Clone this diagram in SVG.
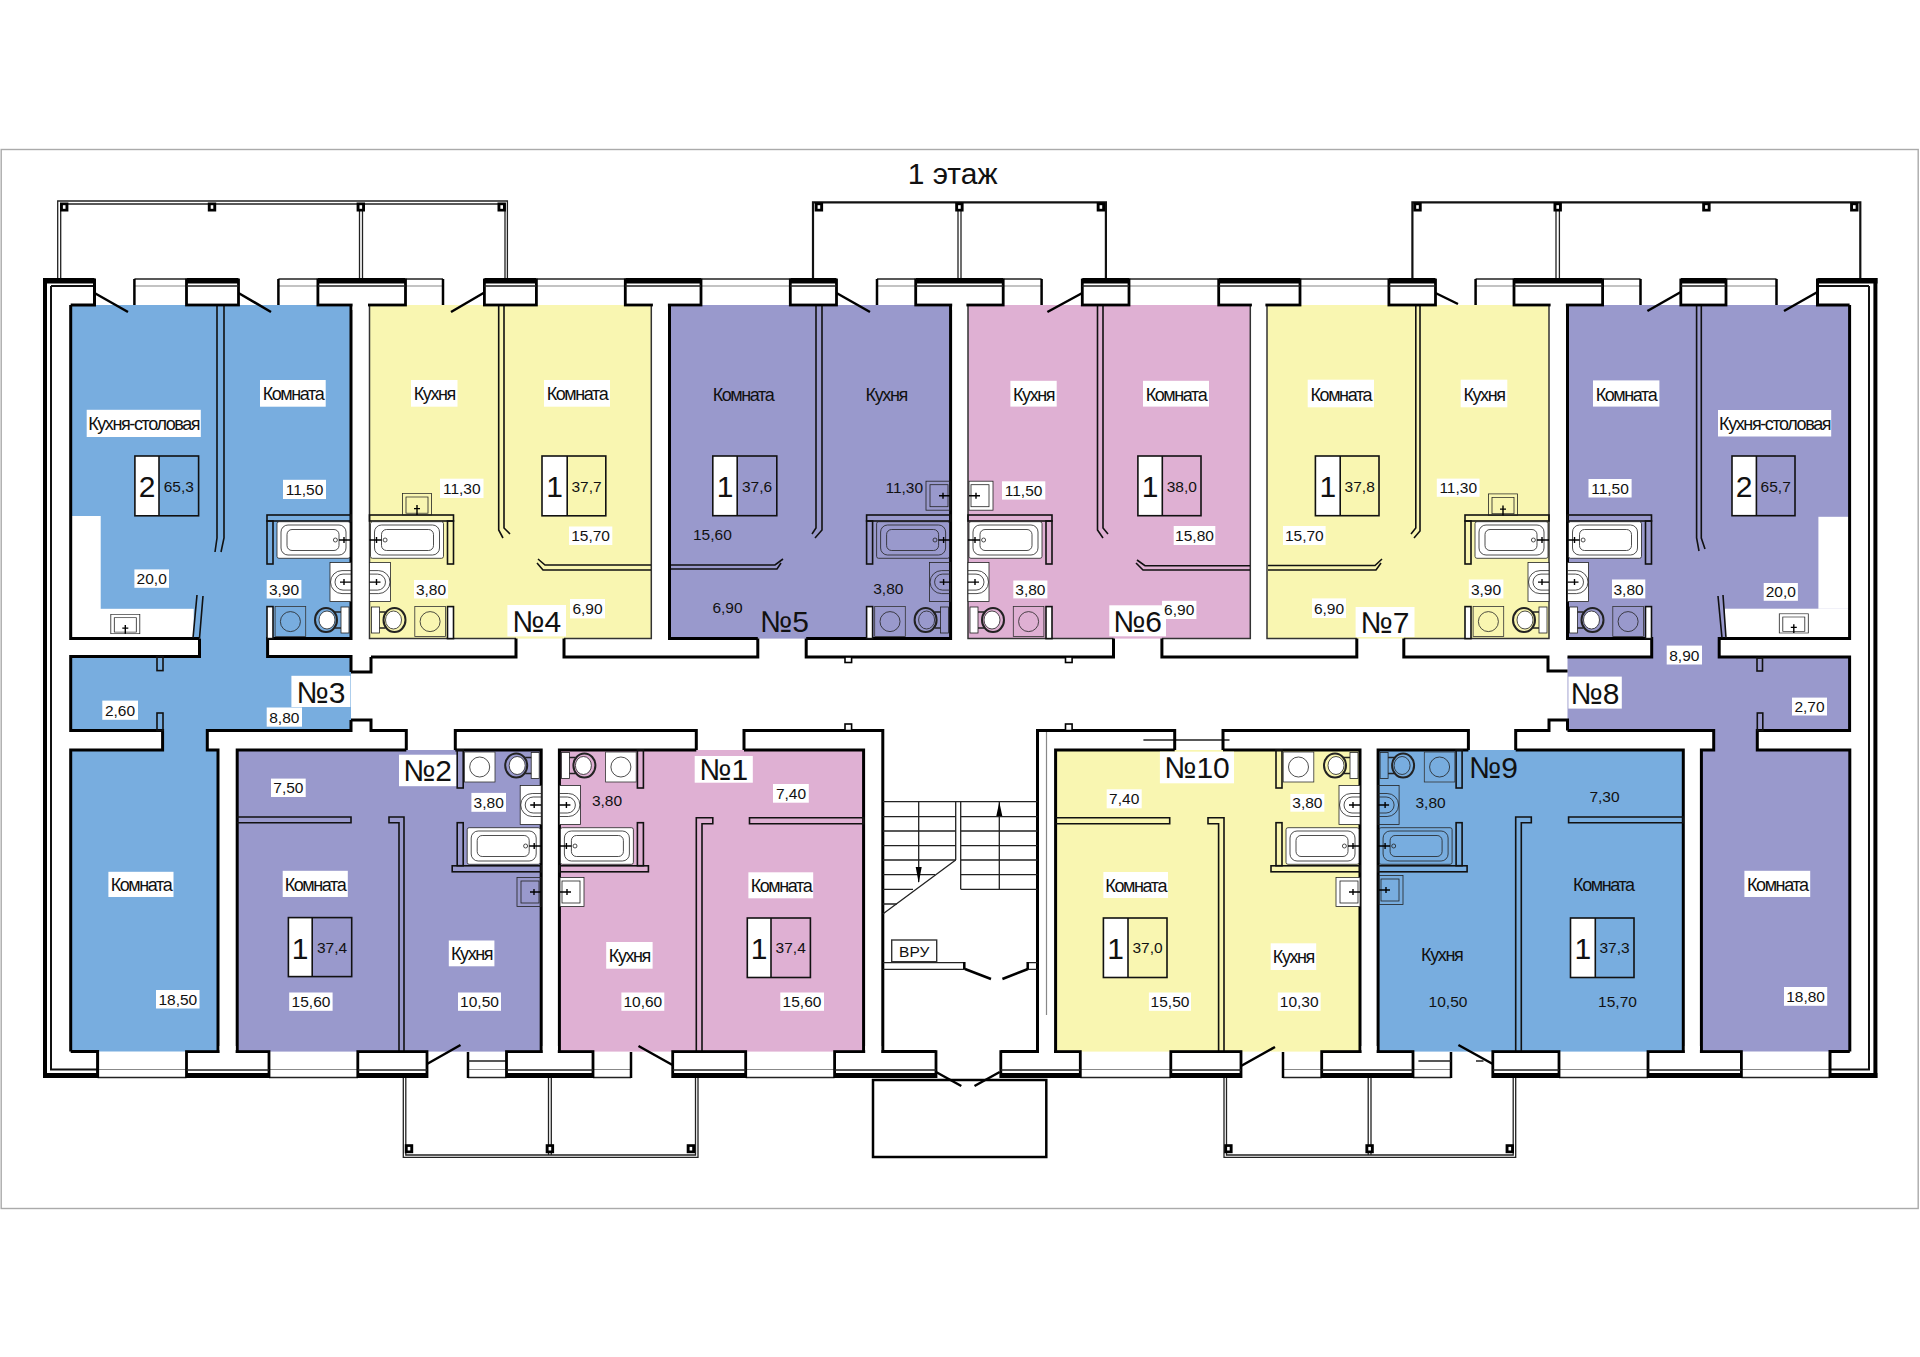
<svg xmlns="http://www.w3.org/2000/svg" width="1920" height="1357" viewBox="0 0 1920 1357">
<style>
text{font-family:"Liberation Sans",Arial,sans-serif;fill:#111;text-anchor:middle}
.n{font-size:15.5px}
.r{font-size:18px;letter-spacing:-1.4px}
.big{font-size:30px}
.t{font-size:30px}
.w{fill:#fff}
.blue{fill:#78addf}.yel{fill:#f9f6b1}.pur{fill:#9999cc}.pink{fill:#dfb0d3}
.hv{fill:none;stroke:#000;stroke-width:3}
.tn{fill:none;stroke:#333;stroke-width:1.5}
.ln{fill:none;stroke:#222;stroke-width:1.3}
.gr{fill:none;stroke:#888;stroke-width:1.2}
.dr{fill:none;stroke:#000;stroke-width:2.5}
.par{fill:none;stroke:#111;stroke-width:1.6}
.box{fill:none;stroke:#111;stroke-width:1.6}
.fx{stroke:#222;stroke-width:.8}
.fn{fill:none;stroke:#222;stroke-width:.8}
.tp{fill:none;stroke:#000;stroke-width:1.4}
</style>
<defs>
<g id="bath"><rect class="fx" x="-74" y="-18.3" width="73" height="36.6" rx="2"/><rect class="fn" x="-70" y="-15" width="65" height="30" rx="7"/><rect class="fn" x="-64" y="-10.5" width="52" height="21" rx="5"/><circle class="fn" cx="-15.6" cy="0" r="2"/><path class="tp" d="M-12,0H0M-7,-3V3"/></g>
<g id="basin"><rect class="fx" x="-21" y="-19.5" width="21" height="39"/><path class="fn" d="M0,-11.5H-9A11.5,11.5 0 0 0 -9,11.5H0"/><path class="fn" d="M0,-8H-8A8,8 0 0 0 -8,8H0"/><path class="tp" d="M-11,0H0M-7,-3V3"/></g>
<g id="wc"><rect class="fx" x="-10" y="-13" width="8" height="26" stroke-width="2"/><ellipse cx="-25" cy="0" rx="11" ry="12" fill="none" stroke="#222" stroke-width="2"/><ellipse class="fx" cx="-24" cy="0" rx="8" ry="9"/><path d="M-16,-8H-10M-16,8H-10" stroke="#222" stroke-width="1.5"/></g>
<g id="wash"><rect x="-15.3" y="-15" width="30.6" height="30" fill="currentColor" stroke="#333" stroke-width=".8"/><circle class="fn" cx="0" cy="0" r="10"/></g>
<g id="unit-up">
<rect class="par" x="-84" y="-123.6" width="84" height="6"/>
<rect class="par" x="-84" y="-117.6" width="6" height="43"/>
<rect x="-84" y="-32" width="6" height="32" fill="#fff" stroke="#111" stroke-width="1.6"/>
<use href="#bath" x="0" y="-98.6"/>
<use href="#basin" x="0" y="-56.5"/>
<use href="#wash" x="-60.6" y="-17"/>
<use href="#wc" x="0" y="-18.6"/>
</g>
<g id="unit-low">
<rect class="par" x="-89" y="115.8" width="89" height="6"/>
<rect class="par" x="-84" y="72.7" width="6" height="43"/>
<rect class="par" x="-84" y="0" width="6" height="38"/>
<use href="#bath" x="0" y="96"/>
<use href="#basin" x="0" y="55"/>
<use href="#wash" x="-61.5" y="17"/>
<use href="#wc" x="0" y="15.5"/>
</g>
<g id="ks"><rect class="fx" x="-24" y="-14.5" width="24" height="29"/><rect class="fn" x="-20" y="-11" width="18" height="22" stroke-width="1.2"/><path class="tp" d="M-11,0H0M-7,-3V3"/></g>
<g id="post"><rect x="-4.2" y="-4.5" width="8.4" height="9" fill="#000"/><rect x="-1.3" y="-1.8" width="2.6" height="3.6" fill="#fff"/></g>
</defs>

<rect x="1.2" y="149.5" width="1917" height="1059" fill="#fff" stroke="#aaa" stroke-width="1.4"/>
<text id="title" x="952.6" y="184" class="t">1 этаж</text>

<g id="fills">
<path class="blue" d="M70.7,305H351V638.6H267.6V656.6H351V730.5H207.3V750H218V1051.6H70.7V750H162.6V730.5H70.7V656.6H199.5V638.6H70.7Z"/>
<rect class="yel" x="369.5" y="305" width="281.8" height="333.6"/>
<rect class="pur" x="669.5" y="305" width="281.1" height="333.6"/>
<rect class="pink" x="968" y="305" width="282.3" height="333.6"/>
<rect class="yel" x="1267" y="305" width="282" height="333.6"/>
<path class="pur" d="M1567.5,305H1849.6V638.6H1719.2V657H1849.6V730.5H1757.3V750H1849.8V1051.6H1701.4V750H1713.7V730.5H1567.5V657H1651.7V638.6H1567.5Z"/>
<rect class="pur" x="237.2" y="750" width="304" height="301.6"/>
<rect class="pink" x="559.4" y="750" width="304.2" height="301.6"/>
<rect class="yel" x="1055.6" y="750" width="304.4" height="301.6"/>
<rect class="blue" x="1378.1" y="750" width="305.2" height="301.6"/>
<rect class="w" x="70.7" y="516" width="30" height="93"/>
<rect class="w" x="70.7" y="608.8" width="123" height="29.8"/>
<rect class="w" x="1818.4" y="516.8" width="31" height="92"/>
<rect class="w" x="1725" y="608.7" width="124.6" height="29.9"/>
</g>

<g id="balconies">
<path class="ln" d="M57.7,278V201H507.4V278M60.7,278V204H505V278M359.5,278V204M362.5,278V204"/>
<path d="M813,278V202.4H1105.9V278" fill="none" stroke="#111" stroke-width="2.2"/>
<path class="ln" d="M958,278V205M961,278V205"/>
<path d="M1412.4,278V202.4H1860.3V278" fill="none" stroke="#111" stroke-width="2.2"/>
<path class="ln" d="M1556,278V205M1559.4,278V205"/>
<path class="ln" d="M403.3,1078V1157.3H698V1078M405.8,1078V1155H695.5V1078M548.5,1078V1155M551.3,1078V1155"/>
<path class="ln" d="M1224,1078V1157.3H1515.7V1078M1226.5,1078V1155H1513.2V1078M1368.2,1078V1155M1371,1078V1155"/>
<use href="#post" x="64.2" y="207"/><use href="#post" x="212" y="207"/><use href="#post" x="360.8" y="207"/><use href="#post" x="501.7" y="207"/>
<use href="#post" x="818.9" y="207"/><use href="#post" x="959.4" y="207"/><use href="#post" x="1100.9" y="207"/>
<use href="#post" x="1417.5" y="207"/><use href="#post" x="1557.7" y="207"/><use href="#post" x="1706.4" y="207"/><use href="#post" x="1854.3" y="207"/>
<use href="#post" x="409" y="1148.7"/><use href="#post" x="549.9" y="1148.7"/><use href="#post" x="690.9" y="1148.7"/>
<use href="#post" x="1228.4" y="1148.7"/><use href="#post" x="1369.6" y="1148.7"/><use href="#post" x="1509.8" y="1148.7"/>
<rect x="873" y="1080" width="173.3" height="77" fill="none" stroke="#000" stroke-width="2.5"/>
</g>

<g id="windows">
<path class="ln" d="M134.4,279H186.5M278.4,279H317.9M405.5,279H443M536.4,279H625.3M701,279H790.3M877,279H915.7M1003.2,279H1041.6M1129,279H1218.7M1300,279H1388.9M1475.6,279H1514M1602.6,279H1640.5M1726,279H1776.5"/>
<path class="gr" d="M134.4,286H186.5M278.4,286H317.9M405.5,286H443M536.4,286H625.3M701,286H790.3M877,286H915.7M1003.2,286H1041.6M1129,286H1218.7M1300,286H1388.9M1475.6,286H1514M1602.6,286H1640.5M1726,286H1776.5"/>
<path class="dr" d="M134.4,279V305M278.4,279V305M443,279V305M877,279V305M1041.6,279V305M1475.6,279V305M1640.5,279V305M1776.5,279V305"/>
<path class="ln" d="M97.6,1077.5H186.5M269,1077.5H358M468,1077.5H506.5M593,1077.5H631M745.7,1077.5H834.6M1080.3,1077.5H1170.8M1283,1077.5H1321.7M1413,1077.5H1451M1559,1077.5H1648M1741.4,1077.5H1830"/>
<path class="gr" d="M97.6,1069.5H186.5M269,1069.5H358M468,1069.5H506.5M593,1069.5H631M745.7,1069.5H834.6M1080.3,1069.5H1170.8M1283,1069.5H1321.7M1413,1069.5H1451M1559,1069.5H1648M1741.4,1069.5H1830"/>
<path class="dr" d="M468,1052V1078M631,1052V1078M1283,1052V1078M1451,1052V1078"/>
<path class="ln" d="M468,1061H507M1418.4,1061H1451M1476,1061H1483.5M1493.5,1061H1540M1143.4,740H1229.5"/>
<path class="gr" d="M1046.5,730V1015"/>
</g>

<g id="apt-3"><path class="hv" d="M199.5,638.6H70.7V305M351,305V638.6H267.6V656.6H351V672M351,720V730.5H207.3V750H218V1051.6M70.7,1051.6V750H162.6V730.5H70.7V656.6H199.5V638.6"/>
<path class="par" d="M217,305V538L215,552M224,305V538L221,552"/><path class="par" d="M193,638L197,595M199.5,638L203,596"/>
<rect class="par" x="157" y="656.6" width="6" height="14"/><rect class="par" x="157" y="713" width="6" height="17.5"/>
<use href="#unit-up" transform="translate(351,638.6)" fill="#fff" color="#78addf"/>
<use href="#ks" transform="translate(125.3,633.7) rotate(90) scale(.8,1)" fill="#fff"/></g>
<g id="apt-4"><path class="tn" d="M516,638.6H369.5V305M651.3,305V638.6H564"/>
<path class="par" d="M498.7,305V530L503,538M504,305V528L510,534"/><path class="par" d="M651,565H545L538,559M651,570H543L537,563"/>
<use href="#unit-up" transform="translate(369.5,638.6) scale(-1,1)" fill="#fff" color="#f9f6b1"/>
<use href="#ks" transform="translate(417,515) rotate(90) scale(.9,1)" fill="none"/></g>
<g id="apt-5"><path class="hv" d="M757.8,638.6H669.5V305M950.6,305V638.6H806.2"/>
<path class="par" d="M816,305V528L812,534M822,305V530L815,538"/><path class="par" d="M671,565H775L783,559M671,569H777L781,563"/>
<use href="#unit-up" transform="translate(950.6,638.6)" fill="none" color="#9999cc"/>
<use href="#ks" x="950" y="495.7" fill="none"/></g>
<g id="apt-6"><path class="tn" d="M1113.5,638.6H968V305M1250.3,305V638.6H1161.9"/>
<path class="par" d="M1097.5,305V530L1103,538M1103,305V528L1108,534"/><path class="par" d="M1250,565.7H1145L1137,560M1250,570H1143L1136,563"/>
<use href="#unit-up" transform="translate(968,638.6) scale(-1,1)" fill="#fff" color="#dfb0d3"/>
<use href="#ks" transform="translate(969,495.7) scale(-1,1)" fill="#fff"/></g>
<g id="apt-7"><path class="tn" d="M1356.8,638.6H1267V305M1549,305V638.6H1403.8"/>
<path class="par" d="M1415.8,305V528L1411,534M1420,305V531L1414,538"/><path class="par" d="M1268,565.5H1375L1382,559M1268,570H1376L1381,563"/>
<use href="#unit-up" transform="translate(1549,638.6)" fill="#fff" color="#f9f6b1"/>
<use href="#ks" transform="translate(1503,515.5) rotate(90) scale(.9,1)" fill="none"/></g>
<g id="apt-8"><path class="hv" d="M1567.5,657H1651.7V638.6H1567.5V305M1849.6,305V638.6H1719.2V657H1849.6V730.5H1757.3V750H1849.8V1051.6M1701.4,1051.6V750H1713.7V730.5H1567.5"/>
<path class="par" d="M1696.6,305V538L1699,551M1701.3,305V538L1705,549"/><path class="par" d="M1718,596L1722,638M1723,595L1726,638"/>
<rect class="par" x="1757" y="658" width="5.5" height="13"/><rect class="par" x="1757.3" y="713" width="5.5" height="17.5"/>
<use href="#unit-up" transform="translate(1567.5,638.6) scale(-1,1)" fill="#fff" color="#9999cc"/>
<use href="#ks" transform="translate(1793.8,633) rotate(90) scale(.8,1)" fill="#fff"/></g>
<g id="apt-2"><path class="hv" d="M406.3,750H237.2V1051.6M541.2,1051.6V750H455.3"/>
<path class="par" d="M237,817H351V822.7H237"/><path class="par" d="M399,1051.6V822.7H389V817H404V1051.6"/>
<use href="#unit-low" transform="translate(541.2,750)" fill="#fff" color="#fff"/>
<use href="#ks" x="541" y="892" fill="none"/></g>
<g id="apt-1"><path class="hv" d="M696.3,750H559.4V1051.6M863.6,1051.6V750H744"/>
<path class="par" d="M749.5,817.7H863.6V823.7H749.5Z"/><path class="par" d="M696.3,1051.6V817.7H712.8V823.7H702V1051.6"/>
<use href="#unit-low" transform="translate(559.4,750) scale(-1,1)" fill="#fff" color="#fff"/>
<use href="#ks" transform="translate(560,892) scale(-1,1)" fill="#fff"/></g>
<g id="apt-10"><path class="hv" d="M1174.7,750H1055.6V1051.6M1360,1051.6V750H1223"/>
<path class="par" d="M1055.6,817.7H1169.7V823.7H1055.6"/><path class="par" d="M1218.6,1051.6V823.7H1208V817.7H1224V1051.6"/>
<use href="#unit-low" transform="translate(1360,750)" fill="#fff" color="#fff"/>
<use href="#ks" x="1360" y="892" fill="#fff"/></g>
<g id="apt-9"><path class="hv" d="M1468.4,750H1378.1V1051.6M1683.3,1051.6V750H1515.7"/>
<path class="par" d="M1568.6,817H1683.3V822.7H1568.6Z"/><path class="par" d="M1515.7,1051.6V817H1531.3V822.7H1521.3V1051.6"/>
<use href="#unit-low" transform="translate(1378.1,750) scale(-1,1)" fill="none" color="#78addf"/>
<use href="#ks" transform="translate(1379,890) scale(-1,1)" fill="none"/></g>

<g id="walls">
<path class="hv" d="M371,657V672H351M371,657H516V638.6M564,638.6V657H757.8V638.6M806.2,638.6V657H1113.5V638.6M1161.9,638.6V657H1356.8V638.6M1403.8,638.6V657H1548V671H1567.5"/>
<path class="hv" d="M351,720H371V730.5H406.3V750M455.3,750V730.5H696.3V750M744,750V730.5H882.8V1051.6H936M1000.8,1051.6H1037.5V730.5H1174.7V750M1223,750V730.5H1468.4V750M1515.7,750V730.5H1549V720H1567.5V730.5"/>
<rect x="845" y="724" width="6.6" height="6.5" fill="#fff" stroke="#000" stroke-width="1.6"/><rect x="1065.5" y="724" width="6.6" height="6.5" fill="#fff" stroke="#000" stroke-width="1.6"/>
<rect x="845" y="657" width="6.6" height="5.5" fill="#fff" stroke="#000" stroke-width="1.6"/><rect x="1065.5" y="657" width="6.6" height="5.5" fill="#fff" stroke="#000" stroke-width="1.6"/>
<rect x="43" y="278" width="4" height="800" fill="#000"/>
<rect x="1873.4" y="278" width="4" height="800" fill="#000"/>
<path d="M51,286V1069.5H97.6M51,286H94.5M1869,286V1069.5H1830M1869,286H1817.5" fill="none" stroke="#111" stroke-width="2"/>
<path class="hv" d="M94.5,278.5V305H70.7M97.6,1078V1051.6H70.7M1817.5,278.5V305H1849.6M1830,1078V1051.6H1849.8"/>
<rect x="43" y="278" width="51.5" height="5.5" fill="#000"/><rect x="1817.5" y="278" width="60" height="5.5" fill="#000"/>
<rect x="43" y="1073" width="54.6" height="5" fill="#000"/><rect x="1830" y="1073" width="47.4" height="5" fill="#000"/>
<g fill="#fff" stroke="#000" stroke-width="2.8">
<rect x="186.5" y="280" width="52" height="25"/><rect x="317.9" y="280" width="87.6" height="25"/><rect x="484.4" y="280" width="52" height="25"/><rect x="625.3" y="280" width="75.7" height="25"/><rect x="790.3" y="280" width="46.2" height="25"/><rect x="915.7" y="280" width="87.5" height="25"/><rect x="1082.3" y="280" width="46.7" height="25"/><rect x="1218.7" y="280" width="81.3" height="25"/><rect x="1388.9" y="280" width="46.6" height="25"/><rect x="1514" y="280" width="88.6" height="25"/><rect x="1680.8" y="280" width="45.2" height="25"/>
<rect x="186.5" y="1051.6" width="82.5" height="25"/><rect x="357.8" y="1051.6" width="69.2" height="25"/><rect x="506.5" y="1051.6" width="86.5" height="25"/><rect x="672.7" y="1051.6" width="73" height="25"/><rect x="834.6" y="1051.6" width="101.4" height="25"/><rect x="1000.8" y="1051.6" width="79.5" height="25"/><rect x="1170.8" y="1051.6" width="70.2" height="25"/><rect x="1321.7" y="1051.6" width="91.3" height="25"/><rect x="1492.8" y="1051.6" width="66.2" height="25"/><rect x="1648" y="1051.6" width="93.4" height="25"/>
</g>
<g class="w">
<rect x="352.6" y="300" width="15.4" height="10"/><rect x="652.9" y="300" width="15" height="10"/><rect x="952.2" y="300" width="14.2" height="10"/><rect x="1251.9" y="300" width="13.5" height="10"/><rect x="1550.6" y="300" width="15.3" height="10"/>
<rect x="219.6" y="1046" width="16" height="10"/><rect x="542.8" y="1046" width="15" height="10"/><rect x="865.2" y="1046" width="16" height="10"/><rect x="1039" y="1046" width="15" height="10"/><rect x="1361.6" y="1046" width="15" height="10"/><rect x="1684.9" y="1046" width="15" height="10"/>
</g>
<path fill="#000" d="M186.5,278h52v5.5h-52zM317.9,278h87.6v5.5h-87.6zM484.4,278h52v5.5h-52zM625.3,278h75.7v5.5h-75.7zM790.3,278h46.2v5.5h-46.2zM915.7,278h87.5v5.5h-87.5zM1082.3,278h46.7v5.5h-46.7zM1218.7,278h81.3v5.5h-81.3zM1388.9,278h46.6v5.5h-46.6zM1514,278h88.6v5.5h-88.6zM1680.8,278h45.2v5.5h-45.2z"/>
<path class="ln" d="M186.5,286H238.5M317.9,286H405.5M484.4,286H536.4M625.3,286H701M790.3,286H836.5M915.7,286H1003.2M1082.3,286H1129M1218.7,286H1300M1388.9,286H1435.5M1514,286H1602.6M1680.8,286H1726"/>
<path fill="#000" d="M186.5,1073h82.5v5h-82.5zM357.8,1073h69.2v5h-69.2zM506.5,1073h86.5v5h-86.5zM672.7,1073h73v5h-73zM834.6,1073h101.4v5h-101.4zM1000.8,1073h79.5v5h-79.5zM1170.8,1073h70.2v5h-70.2zM1321.7,1073h91.3v5h-91.3zM1492.8,1073h66.2v5h-66.2zM1648,1073h93.4v5h-93.4z"/>
<path class="ln" d="M186.5,1070H269M357.8,1070H427M506.5,1070H593M672.7,1070H745.7M834.6,1070H936M1000.8,1070H1080.3M1170.8,1070H1241M1321.7,1070H1413M1492.8,1070H1559M1648,1070H1741.4"/>
</g>

<g id="doors">
<path class="dr" d="M94.5,293L128,312M238.5,293L271,312M483.5,293L451,312M836.5,293L870,312M1082.3,293L1047.4,312M1435.5,293L1458,304M1680.8,292L1647.4,311M1817.5,292L1784,311"/>
<path class="dr" d="M427,1064L460.5,1045M638.5,1046L672.5,1065M1241,1066L1275,1047M1458.4,1045L1492.8,1064M936,1072L961.3,1086M999.7,1072L974.5,1086M965,969L991,979M1028,969L1002.4,979"/>
</g>

<g id="stairs">
<path class="ln" d="M882.8,801.7H1037.5M882.8,816.7H955.7M882.8,831H955.7M882.8,845.7H955.7M882.8,860H955.7M882.8,874.7H935M882.8,889.3H913M882.8,904H896.7"/>
<path class="ln" d="M960.7,816.7H1037.5M960.7,831H1037.5M960.7,845.7H1037.5M960.7,860H1037.5M960.7,874.7H1037.5M960.7,889.3H1037.5"/>
<path class="ln" d="M955.7,801.7V860M960.7,801.7V889.3M955.7,860L882.8,914M918.7,801.7V882M999.3,801.7V889.3"/>
<path d="M918.7,883L915.7,867H921.7ZM999.3,802L996.3,816H1002.3Z" fill="#000"/>
<path class="ln" d="M882.8,962.7H964.3V969.3H882.8M1027.7,969.3V962.7H1037.5M1027.7,969.3H1037.5"/>
<path class="dr" d="M964.3,962V969M1027.7,962V969"/>
<rect x="891.7" y="940" width="45" height="21.7" fill="#fff" stroke="#333" stroke-width="1.4"/>
<text class="n" x="914.2" y="956.5">ВРУ</text>
</g>

<g id="labels-3">
<rect class="w" x="86.7" y="409.8" width="114.1" height="27.2"/><text class="r" x="143.7" y="430">Кухня-столовая</text>
<rect class="w" x="260" y="380" width="65.7" height="26.7"/><text class="r" x="293" y="400">Комната</text>
<rect class="w" x="283" y="479.8" width="43" height="19.2"/><text class="n" x="304.5" y="495">11,50</text>
<rect class="w" x="134.4" y="569.4" width="34.6" height="18.4"/><text class="n" x="151.7" y="584">20,0</text>
<rect class="w" x="266.7" y="580" width="34.7" height="18.5"/><text class="n" x="284" y="594.7">3,90</text>
<rect class="w" x="102.3" y="700.6" width="35.7" height="19.2"/><text class="n" x="120" y="715.8">2,60</text>
<rect class="w" x="266.7" y="707.5" width="35.3" height="19.2"/><text class="n" x="284.3" y="722.6">8,80</text>
<rect class="w" x="291.4" y="675.8" width="59" height="31.2"/><text class="big" x="321" y="702.5">№3</text>
<rect class="w" x="108.4" y="871.8" width="65.1" height="25.2"/><text class="r" x="141" y="891">Комната</text>
<rect class="w" x="156" y="990" width="43.5" height="18.5"/><text class="n" x="177.8" y="1004.7">18,50</text>
<rect x="134.9" y="456" width="24.1" height="59.8" fill="#fff"/><rect class="box" x="134.9" y="456" width="63.7" height="59.8"/><path class="box" d="M159,456V515.8"/><text class="big" x="147" y="497">2</text><text class="n" x="178.8" y="491.5">65,3</text>
</g>
<g id="labels-4">
<rect class="w" x="411" y="380" width="46.5" height="26.7"/><text class="r" x="434.3" y="400">Кухня</text>
<rect class="w" x="544" y="380" width="66" height="26.7"/><text class="r" x="577" y="400">Комната</text>
<rect class="w" x="440" y="478.7" width="43.5" height="19.3"/><text class="n" x="461.8" y="494">11,30</text>
<rect class="w" x="569" y="526.5" width="43.3" height="18.5"/><text class="n" x="590.6" y="541.2">15,70</text>
<rect class="w" x="414" y="580" width="34" height="18.5"/><text class="n" x="431" y="594.7">3,80</text>
<rect class="w" x="570" y="599" width="35" height="19.4"/><text class="n" x="587.5" y="614.2">6,90</text>
<rect class="w" x="507.4" y="605" width="58.6" height="31.4"/><text class="big" x="536.7" y="631.5">№4</text>
<rect x="542" y="456" width="25.2" height="59.8" fill="#fff"/><rect class="box" x="542" y="456" width="63.8" height="59.8"/><path class="box" d="M567.2,456V515.8"/><text class="big" x="554.6" y="497">1</text><text class="n" x="586.5" y="491.5">37,7</text>
</g>
<g id="labels-5">
<text class="r" x="743" y="400.7">Комната</text><text class="r" x="886.2" y="400.7">Кухня</text>
<text class="n" x="904.3" y="493">11,30</text><text class="n" x="712.4" y="540.2">15,60</text><text class="n" x="888.3" y="594.3">3,80</text><text class="n" x="727.5" y="613.2">6,90</text>
<text class="big" x="784.4" y="631.8">№5</text>
<rect x="712.8" y="456" width="24.4" height="59.7" fill="#fff"/><rect class="box" x="712.8" y="456" width="64" height="59.7"/><path class="box" d="M737.2,456V515.7"/><text class="big" x="725" y="497">1</text><text class="n" x="757" y="491.5">37,6</text>
</g>
<g id="labels-6">
<rect class="w" x="1010.4" y="380.8" width="46.3" height="25.8"/><text class="r" x="1033.6" y="400.5">Кухня</text>
<rect class="w" x="1143" y="380.8" width="66" height="25.8"/><text class="r" x="1176" y="400.5">Комната</text>
<rect class="w" x="1002" y="481.3" width="43.3" height="18.3"/><text class="n" x="1023.6" y="496">11,50</text>
<rect class="w" x="1173.7" y="526" width="41.6" height="19"/><text class="n" x="1194.5" y="541">15,80</text>
<rect class="w" x="1013.3" y="580.5" width="34.1" height="17.9"/><text class="n" x="1030.4" y="595">3,80</text>
<rect class="w" x="1109.3" y="605.3" width="56.7" height="31"/><text class="big" x="1137.6" y="631.5">№6</text>
<rect class="w" x="1162" y="600.8" width="34.4" height="18.2"/><text class="n" x="1179.2" y="615.4">6,90</text>
<rect x="1137.9" y="456" width="24.4" height="59.7" fill="#fff"/><rect class="box" x="1137.9" y="456" width="63.1" height="59.7"/><path class="box" d="M1162.3,456V515.7"/><text class="big" x="1150" y="497">1</text><text class="n" x="1181.8" y="491.5">38,0</text>
</g>
<g id="labels-7">
<rect class="w" x="1307.7" y="379.7" width="66.3" height="27.6"/><text class="r" x="1340.8" y="400.5">Комната</text>
<rect class="w" x="1460.7" y="379.7" width="46.6" height="27.6"/><text class="r" x="1484" y="400.5">Кухня</text>
<rect class="w" x="1436.8" y="478.6" width="42.7" height="18.2"/><text class="n" x="1458.2" y="493.2">11,30</text>
<rect class="w" x="1283" y="526" width="42.6" height="19"/><text class="n" x="1304.3" y="541">15,70</text>
<rect class="w" x="1468.8" y="579.5" width="34.6" height="18.9"/><text class="n" x="1486" y="594.5">3,90</text>
<rect class="w" x="1312" y="598.4" width="34" height="19.6"/><text class="n" x="1329" y="613.7">6,90</text>
<rect class="w" x="1355.6" y="607" width="58.9" height="30"/><text class="big" x="1385" y="632.5">№7</text>
<rect x="1315.4" y="456" width="24.8" height="59.7" fill="#fff"/><rect class="box" x="1315.4" y="456" width="63.6" height="59.7"/><path class="box" d="M1340.2,456V515.7"/><text class="big" x="1327.8" y="497">1</text><text class="n" x="1359.7" y="491.5">37,8</text>
</g>
<g id="labels-8">
<rect class="w" x="1593" y="380.4" width="66.4" height="26.2"/><text class="r" x="1626" y="400.5">Комната</text>
<rect class="w" x="1718" y="410" width="113.2" height="26.5"/><text class="r" x="1774.6" y="430">Кухня-столовая</text>
<rect class="w" x="1588.5" y="479" width="43.1" height="18.5"/><text class="n" x="1610" y="493.7">11,50</text>
<rect class="w" x="1612" y="579.5" width="33.3" height="18.9"/><text class="n" x="1628.6" y="594.5">3,80</text>
<rect class="w" x="1763.7" y="583" width="34.2" height="17.8"/><text class="n" x="1780.8" y="597.4">20,0</text>
<rect class="w" x="1666.7" y="645.6" width="35.3" height="18.9"/><text class="n" x="1684.3" y="660.6">8,90</text>
<rect class="w" x="1792" y="697.6" width="35" height="17.9"/><text class="n" x="1809.5" y="712">2,70</text>
<rect class="w" x="1568.4" y="676.6" width="53.4" height="32"/><text class="big" x="1595" y="703.5">№8</text>
<rect class="w" x="1744.4" y="870.8" width="65.8" height="26.2"/><text class="r" x="1777.3" y="891">Комната</text>
<rect class="w" x="1784" y="987" width="43.2" height="18.8"/><text class="n" x="1805.6" y="1001.8">18,80</text>
<rect x="1732" y="456" width="24.4" height="59.7" fill="#fff"/><rect class="box" x="1732" y="456" width="63" height="59.7"/><path class="box" d="M1756.4,456V515.7"/><text class="big" x="1744.2" y="497">2</text><text class="n" x="1775.7" y="491.5">65,7</text>
</g>
<g id="labels-2">
<rect class="w" x="282.7" y="870.8" width="65.1" height="26.2"/><text class="r" x="315" y="891">Комната</text>
<rect class="w" x="289.2" y="992.5" width="43.4" height="18.3"/><text class="n" x="311" y="1007">15,60</text>
<rect class="w" x="271" y="778.6" width="34.7" height="18.4"/><text class="n" x="288.4" y="793.2">7,50</text>
<rect class="w" x="399" y="754.7" width="57.2" height="31.5"/><text class="big" x="427.6" y="781">№2</text>
<rect class="w" x="471.4" y="792.9" width="34.6" height="18.9"/><text class="n" x="488.7" y="807.8">3,80</text>
<rect class="w" x="448.8" y="940.5" width="45.6" height="25.8"/><text class="r" x="471.6" y="960">Кухня</text>
<rect class="w" x="458" y="992.5" width="43" height="18.3"/><text class="n" x="479.5" y="1007">10,50</text>
<rect x="288.4" y="917.6" width="23.8" height="59" fill="#fff"/><rect class="box" x="288.4" y="917.6" width="63.3" height="59"/><path class="box" d="M312.2,917.6V976.6"/><text class="big" x="300.2" y="958.5">1</text><text class="n" x="332" y="953">37,4</text>
</g>
<g id="labels-1">
<text class="n" x="607" y="805.5">3,80</text>
<rect class="w" x="606.2" y="942" width="46.4" height="26.7"/><text class="r" x="629.4" y="962">Кухня</text>
<rect class="w" x="621.4" y="992.5" width="42.9" height="18.3"/><text class="n" x="642.8" y="1007">10,60</text>
<rect class="w" x="694.7" y="756" width="58.1" height="26.7"/><text class="big" x="723.7" y="780">№1</text>
<rect class="w" x="773" y="784" width="35.8" height="18.7"/><text class="n" x="791" y="798.8">7,40</text>
<rect class="w" x="748.4" y="872.3" width="64.8" height="26"/><text class="r" x="781" y="891.5">Комната</text>
<rect class="w" x="780.3" y="992.5" width="43.7" height="18.3"/><text class="n" x="802" y="1007">15,60</text>
<rect x="747.3" y="918" width="23.7" height="59.5" fill="#fff"/><rect class="box" x="747.3" y="918" width="63.1" height="59.5"/><path class="box" d="M771,918V977.5"/><text class="big" x="759" y="958.5">1</text><text class="n" x="790.7" y="953">37,4</text>
</g>
<g id="labels-10">
<rect class="w" x="1159.9" y="751.7" width="74.1" height="31.6"/><text class="big" x="1197" y="778">№10</text>
<rect class="w" x="1106.7" y="789.3" width="35" height="19"/><text class="n" x="1124.2" y="804.3">7,40</text>
<rect class="w" x="1290.4" y="794" width="34" height="17.7"/><text class="n" x="1307.4" y="808.4">3,80</text>
<rect class="w" x="1103.4" y="872" width="64.6" height="26"/><text class="r" x="1135.7" y="891.5">Комната</text>
<rect class="w" x="1148.9" y="992.5" width="42.1" height="18.3"/><text class="n" x="1170" y="1007">15,50</text>
<rect class="w" x="1270.7" y="943.3" width="45.5" height="26.7"/><text class="r" x="1293.4" y="963">Кухня</text>
<rect class="w" x="1277.8" y="992.5" width="42.8" height="18.3"/><text class="n" x="1299.2" y="1007">10,30</text>
<rect x="1103.4" y="918" width="24.6" height="59.5" fill="#fff"/><rect class="box" x="1103.4" y="918" width="63.6" height="59.5"/><path class="box" d="M1128,918V977.5"/><text class="big" x="1115.7" y="958.5">1</text><text class="n" x="1147.5" y="953">37,0</text>
</g>
<g id="labels-9">
<text class="big" x="1493.5" y="778">№9</text>
<text class="n" x="1430.6" y="807.5">3,80</text><text class="n" x="1604.5" y="802.4">7,30</text>
<text class="r" x="1603.4" y="891">Комната</text><text class="r" x="1441.7" y="961">Кухня</text>
<text class="n" x="1448" y="1006.7">10,50</text><text class="n" x="1617.5" y="1006.7">15,70</text>
<rect x="1570.5" y="918" width="24.8" height="59.5" fill="#fff"/><rect class="box" x="1570.5" y="918" width="63.5" height="59.5"/><path class="box" d="M1595.3,918V977.5"/><text class="big" x="1582.9" y="958.5">1</text><text class="n" x="1614.6" y="953">37,3</text>
</g>
</svg>
